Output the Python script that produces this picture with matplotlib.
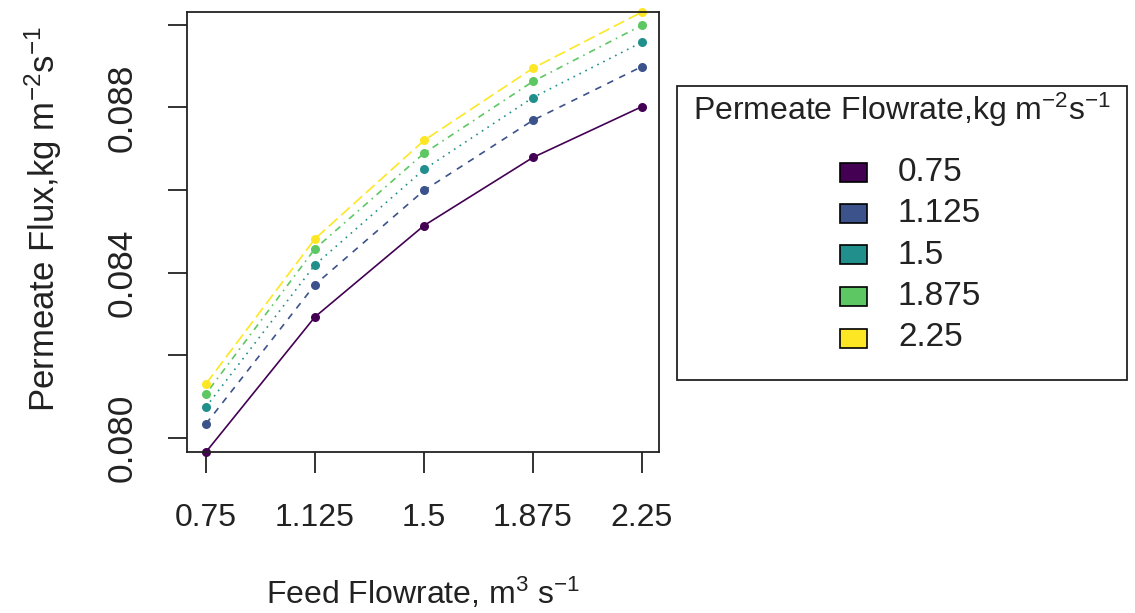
import matplotlib
matplotlib.use('Agg')
import matplotlib.pyplot as plt
from matplotlib.patches import Rectangle

plt.rcParams['font.family'] = ['Liberation Sans', 'DejaVu Sans']
plt.rcParams['mathtext.fontset'] = 'custom'
plt.rcParams['mathtext.rm'] = 'Liberation Sans'
plt.rcParams['mathtext.it'] = 'Liberation Sans'

feed_labels = ['0.75', '1.125', '1.5', '1.875', '2.25']
permeate_labels = ['0.75', '1.125', '1.5', '1.875', '2.25']

flux_075 = [0.07966, 0.08293, 0.08514, 0.08679, 0.08802]
flux_1125 = [0.08034, 0.08371, 0.08599, 0.08769, 0.08899]
flux_15 = [0.08075, 0.08419, 0.08650, 0.08824, 0.08958]
flux_1875 = [0.08107, 0.08458, 0.08689, 0.08863, 0.08999]
flux_225 = [0.08131, 0.08482, 0.08720, 0.08895, 0.09031]

series = [flux_075, flux_1125, flux_15, flux_1875, flux_225]
colors = ['#440154', '#3B528B', '#21908C', '#5DC863', '#FDE725']
dashes = [(), (4, 4), (1, 3), (1, 3, 4, 3), (7, 3)]

W, H = 1135, 613


def fx(px):
    return px / W


def fy(py):
    return 1 - py / H


fig = plt.figure(figsize=(11.35, 6.13), dpi=100)
ax = fig.add_axes([fx(187), fy(452), (659 - 187) / W, (452 - 12) / H])

x = list(range(1, len(feed_labels) + 1))
for vals, c, d in zip(series, colors, dashes):
    line, = ax.plot(x, vals, color=c, lw=1.2, marker='o', markersize=6.5,
                    markeredgewidth=0, clip_on=False)
    if d:
        line.set_dashes(d)

ax.set_xlim(0.826, 5.156)
ax.set_ylim(min(flux_075), max(flux_225))
ax.set_xticks(x)
ax.set_xticklabels(feed_labels)
ax.set_yticks([0.080, 0.082, 0.084, 0.086, 0.088, 0.090])
ax.set_yticklabels(['0.080', '', '0.084', '', '0.088', ''], rotation=90, va='center')

for s in ax.spines.values():
    s.set_linewidth(1.3)
    s.set_color('#222222')
ax.tick_params(axis='x', length=15, width=1.3, pad=22, labelsize=23, colors='#222222')
ax.tick_params(axis='y', length=14, width=1.3, pad=21, labelsize=25.5, colors='#222222')

fig.text(fx(423), fy(593), r'Feed Flowrate, m$^3$ s$^{-1}$',
         ha='center', va='center', fontsize=23, color='#222222')
fig.text(fx(43), fy(219), r'Permeate Flux,kg m$^{-2}$s$^{-1}$',
         ha='center', va='center', rotation=90, fontsize=25, color='#222222')

# legend drawn by hand, R style
fig.add_artist(Rectangle((fx(677), fy(380)), (1127 - 677) / W, (380 - 86) / H,
                         transform=fig.transFigure, fill=False,
                         edgecolor='#222222', linewidth=1.3))
fig.text(fx(902), fy(110), r'Permeate Flowrate,kg m$^{-2}$s$^{-1}$',
         ha='center', va='center', fontsize=23, color='#222222')
for i, (lab, c) in enumerate(zip(permeate_labels, colors)):
    yc = 172 + 41.5 * i
    fig.add_artist(Rectangle((fx(840), fy(yc + 9.5)), 27 / W, 19 / H,
                             transform=fig.transFigure, facecolor=c,
                             edgecolor='black', linewidth=1.2))
    fig.text(fx(898), fy(yc), lab, ha='left', va='center', fontsize=24,
             color='#222222')

fig.savefig('out.png', dpi=100)
